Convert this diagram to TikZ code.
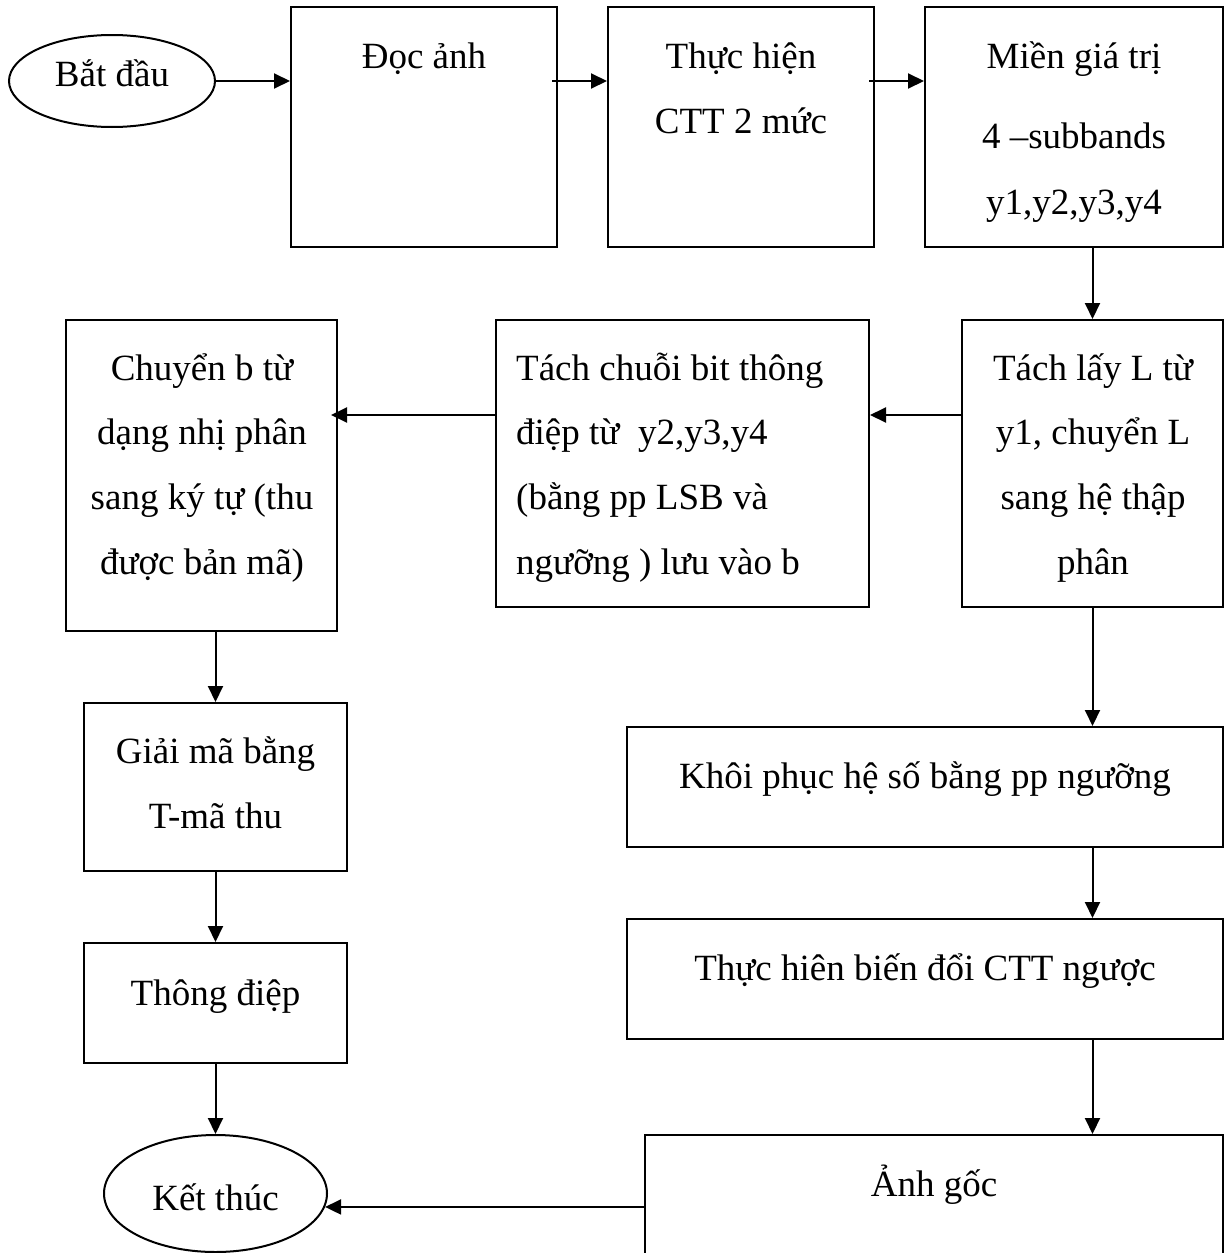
\documentclass[tikz,border=0pt]{standalone}
\usepackage{fontspec}
\setmainfont{Liberation Serif}
\usetikzlibrary{shapes.geometric, arrows.meta, calc}
\begin{document}
\begin{tikzpicture}[x=1pt, y=-1pt,
  box/.style={draw, line width=2pt, inner sep=0pt, rectangle},
  oval/.style={draw, line width=2pt, inner sep=0pt, ellipse},
  txt/.style={inner sep=0pt, anchor=base, font=\fontsize{37}{44}\selectfont},
  txtl/.style={txt, anchor=base west},
  arr/.style={line width=2pt, -{Triangle[length=16pt, width=15pt]}},
]
\path[use as bounding box] (0,0) rectangle (1227,1253);
\clip (0,0) rectangle (1227,1253);

% start / end terminals
\node[oval, minimum width=206pt, minimum height=92pt] (start) at (112,81) {};
\node[oval, minimum width=223pt, minimum height=117pt] (ket) at (215.5,1193.5) {};

% process boxes
\node[box, minimum width=266pt, minimum height=240pt] (doc)    at (424,127) {};
\node[box, minimum width=266pt, minimum height=240pt] (thuc)   at (741,127) {};
\node[box, minimum width=298pt, minimum height=240pt] (mien)   at (1074,127) {};
\node[box, minimum width=271pt, minimum height=311pt] (chuyen) at (201.5,475.5) {};
\node[box, minimum width=373pt, minimum height=287pt] (tachC)  at (682.5,463.5) {};
\node[box, minimum width=261pt, minimum height=287pt] (tachL)  at (1092.5,463.5) {};
\node[box, minimum width=263pt, minimum height=168pt] (giai)   at (215.5,787) {};
\node[box, minimum width=263pt, minimum height=120pt] (thong)  at (215.5,1003) {};
\node[box, minimum width=596pt, minimum height=120pt] (khoi)   at (925,787) {};
\node[box, minimum width=596pt, minimum height=120pt] (bien)   at (925,979) {};
\node[box, minimum width=578pt, minimum height=200pt] (anh)    at (934,1235) {};

% texts
\node[txt] (tStart) at (112,86) {Bắt đầu};
\node[txt] (tKet) at (215.5,1210) {Kết thúc};

\node[txt] (tDoc) at (424,68) {Đọc ảnh};

\node[txt] (tThucA) at (741,68) {Thực hiện};
\node[txt] (tThucB) at (741,133) {CTT 2 mức};

\node[txt] (tMienA) at (1074,68) {Miền giá trị};
\node[txt] (tMienB) at (1074,148) {4 –subbands};
\node[txt] (tMienC) at (1074,214) {y1,y2,y3,y4};

\node[txt] (tChuyenA) at (202,380) {Chuyển b từ};
\node[txt] (tChuyenB) at (202,444) {dạng nhị phân};
\node[txt] (tChuyenC) at (202,509) {sang ký tự (thu};
\node[txt] (tChuyenD) at (202,574) {được bản mã)};

\node[txtl] (tTachCA) at (516,380) {Tách chuỗi bit thông};
\node[txtl] (tTachCB) at (516,444) {điệp từ\ \ y2,y3,y4};
\node[txtl] (tTachCC) at (516,509) {(bằng pp LSB và};
\node[txtl] (tTachCD) at (516,574) {ngưỡng ) lưu vào b};

\node[txt] (tTachLA) at (1093,380) {Tách lấy L từ};
\node[txt] (tTachLB) at (1093,444) {y1, chuyển L};
\node[txt] (tTachLC) at (1093,509) {sang hệ thập};
\node[txt] (tTachLD) at (1093,574) {phân};

\node[txt] (tGiaiA) at (215.5,763) {Giải mã bằng};
\node[txt] (tGiaiB) at (215.5,828) {T-mã thu};

\node[txt] (tThong) at (215.5,1005) {Thông điệp};

\node[txt] (tKhoi) at (925,788) {Khôi phục hệ số bằng pp ngưỡng};
\node[txt] (tBien) at (925,980) {Thực hiên biến đổi CTT ngược};
\node[txt] (tAnh) at (934,1196) {Ảnh gốc};

% connectors
\coordinate (rowtwo) at (0,415);
\draw[arr] (start.east) -- (doc.west |- start.east);
\draw[arr, shorten <=-6pt] (doc.east |- start.east) -- (thuc.west |- start.east);
\draw[arr, shorten <=-6pt] (thuc.east |- start.east) -- (mien.west |- start.east);
\draw[arr] (tachL.north |- mien.south) -- (tachL.north);
\draw[arr] (tachL.west |- rowtwo) -- (tachC.east |- rowtwo);
\draw[arr, shorten >=-7pt] (tachC.west |- rowtwo) -- (chuyen.east |- rowtwo);
\draw[arr] (tachL.south) -- (tachL.south |- khoi.north);
\draw[arr] (tachL.south |- khoi.south) -- (tachL.south |- bien.north);
\draw[arr] (tachL.south |- bien.south) -- (tachL.south |- anh.north);
\draw[arr] (giai.north |- chuyen.south) -- (giai.north);
\draw[arr] (giai.south) -- (thong.north);
\draw[arr] (thong.south) -- (ket.north);
\draw[arr] (anh.west |- ket.-7) -- (ket.-7);
\end{tikzpicture}
\end{document}
